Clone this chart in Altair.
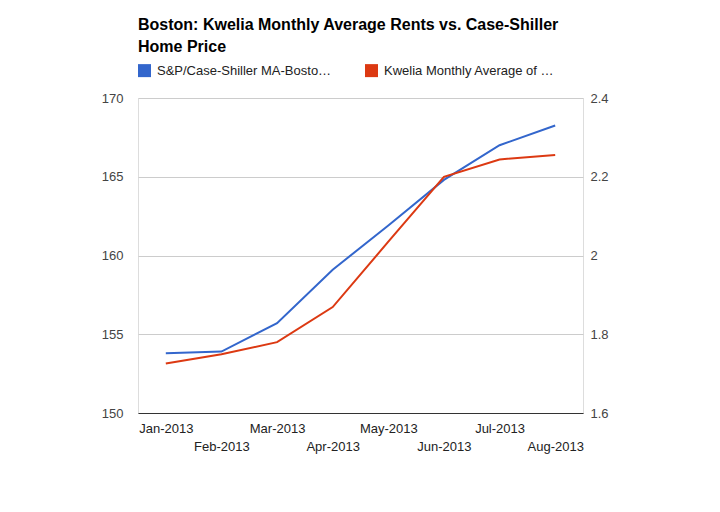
import altair as alt
import pandas as pd

months = ["Jan-2013", "Feb-2013", "Mar-2013", "Apr-2013",
          "May-2013", "Jun-2013", "Jul-2013", "Aug-2013"]
case_shiller = [153.8, 153.9, 155.7, 159.1, 161.9, 164.8, 167.0, 168.25]
kwelia = [1.726, 1.749, 1.780, 1.869, 2.035, 2.200, 2.244, 2.255]
series_names = ["S&P/Case-Shiller MA-Bosto…", "Kwelia Monthly Average of …"]
colors = ["#3366cc", "#dc3912"]
left_ticks = [150, 155, 160, 165, 170]
right_ticks = [1.6, 1.8, 2.0, 2.2, 2.4]
title_lines = ["Boston: Kwelia Monthly Average Rents vs. Case-Shiller", "Home Price"]

FONT = "Arial, Liberation Sans, sans-serif"

df1 = pd.DataFrame({"month": months, "value": case_shiller, "series": series_names[0]})
df2 = pd.DataFrame({"month": months, "value": kwelia, "series": series_names[1]})

even_test = "indexof(['Feb-2013','Apr-2013','Jun-2013','Aug-2013'], datum.value) >= 0"

x_enc = alt.X(
    "month:N", sort=months, title=None,
    scale=alt.Scale(type="point", padding=0.5),
    axis=alt.Axis(
        labelAngle=0, ticks=False, domain=True, domainColor="#333333",
        labelFontSize=13, labelColor="#222222", labelFont=FONT,
        labelPadding={"condition": {"test": even_test, "value": 27}, "value": 9},
        labelOverlap=False, grid=False,
    ),
)

color_enc = alt.Color(
    "series:N",
    scale=alt.Scale(domain=series_names, range=colors),
    legend=alt.Legend(
        orient="none", legendX=0, legendY=-34, direction="horizontal",
        title=None, symbolType="square", symbolSize=42.25, symbolStrokeWidth=6.5,
        labelFontSize=13, labelFont=FONT, labelColor="#222222",
        columnPadding=23, labelOffset=6, labelLimit=300,
    ),
)

left = alt.Chart(df1).mark_line(strokeWidth=2).encode(
    x=x_enc,
    y=alt.Y("value:Q", title=None,
            scale=alt.Scale(domain=[150, 170], nice=False, zero=False),
            axis=alt.Axis(values=left_ticks, ticks=False, domain=False, grid=True,
                          gridColor="#cccccc", labelFontSize=13, labelFont=FONT,
                          labelColor="#444444", labelPadding=15, orient="left")),
    color=color_enc,
)

right = alt.Chart(df2).mark_line(strokeWidth=2).encode(
    x=x_enc,
    y=alt.Y("value:Q", title=None,
            scale=alt.Scale(domain=[1.6, 2.4], nice=False, zero=False),
            axis=alt.Axis(values=right_ticks, ticks=False, domain=False, grid=False,
                          format="~g", labelFontSize=13, labelFont=FONT,
                          labelColor="#444444", labelPadding=7, orient="right")),
    color=color_enc,
)

chart = alt.layer(left, right).resolve_scale(y="independent").properties(
    width=445, height=315,
    autosize=alt.AutoSizeParams(type="none"),
    padding={"left": 130, "top": 90, "right": 129, "bottom": 91},
    title=alt.TitleParams(
        text=title_lines, anchor="start", frame="group", font=FONT,
        fontSize=16, fontWeight="bold", color="#000000", lineHeight=22, offset=9,
    ),
).configure_view(stroke=None).configure(background="#ffffff")

chart.save("out.html", embed_options={"renderer": "svg", "actions": False})
